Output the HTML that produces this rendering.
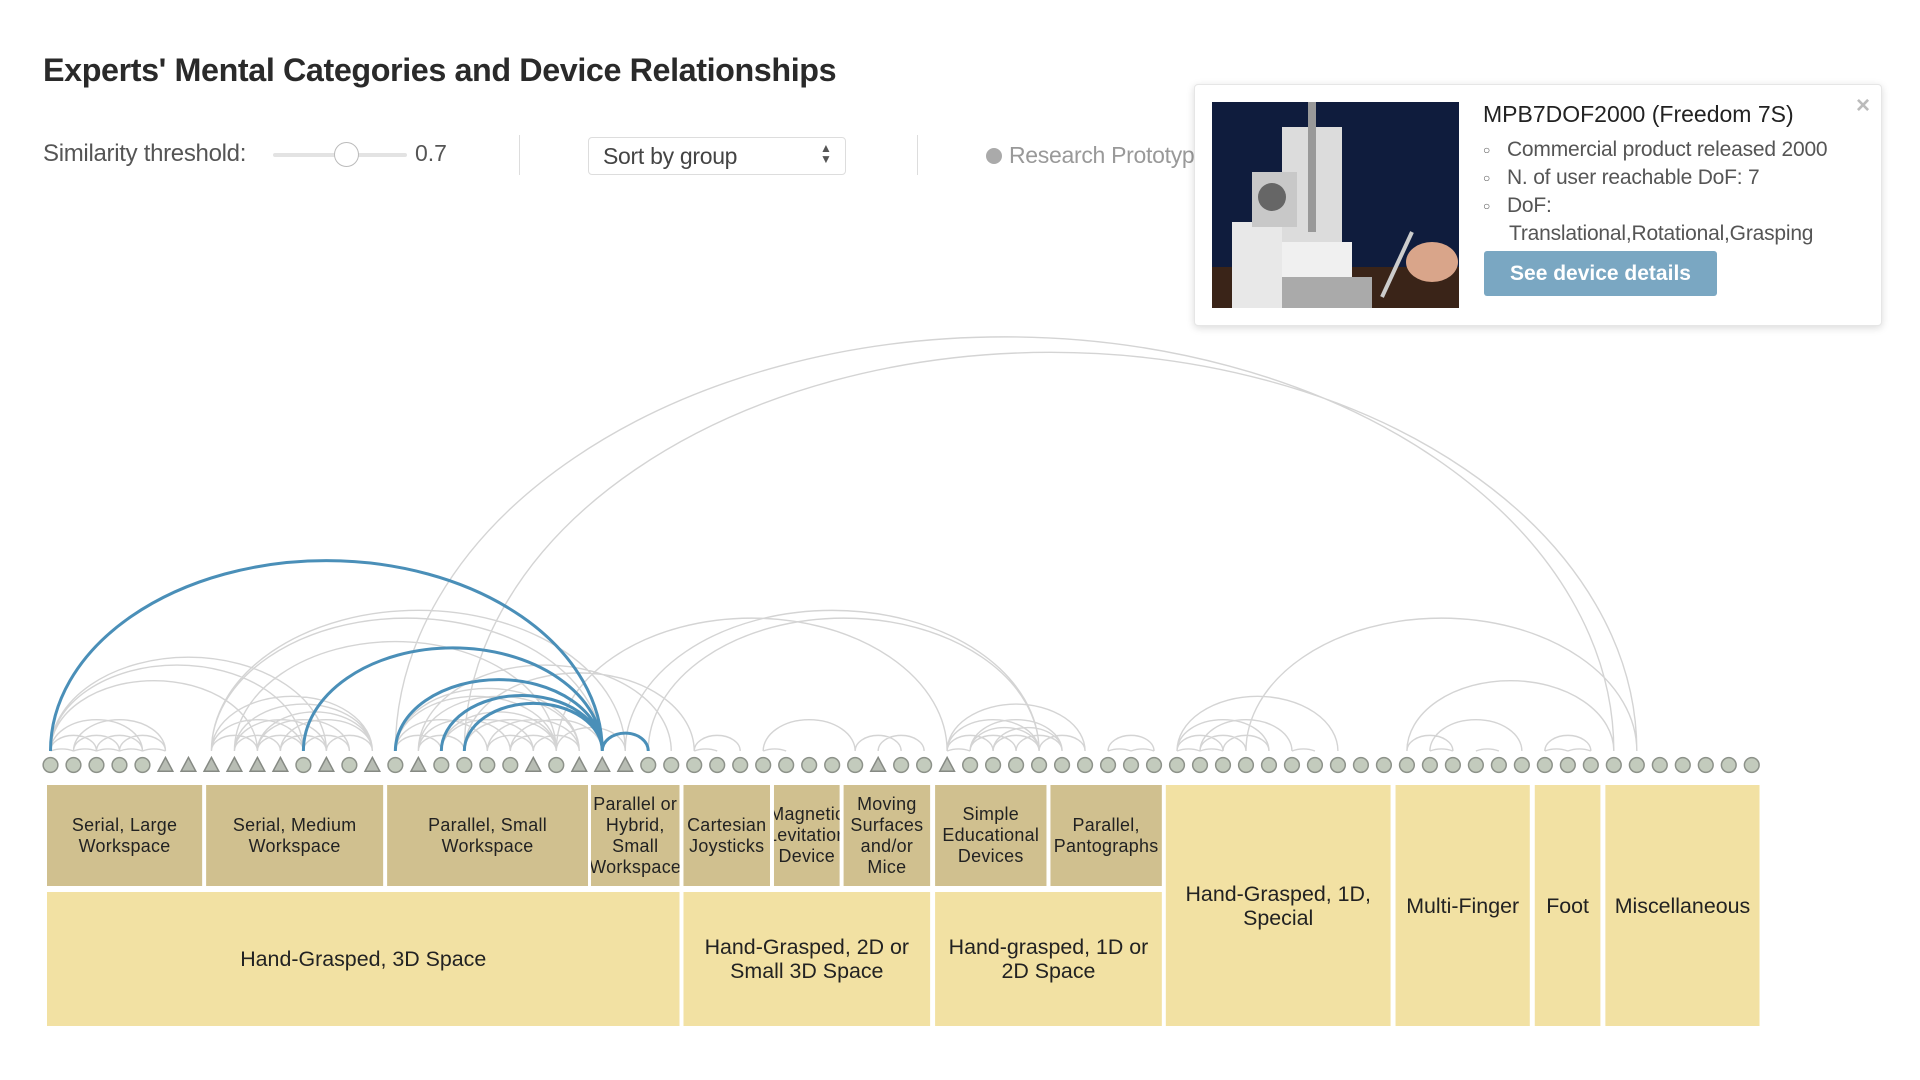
<!DOCTYPE html>
<html><head><meta charset="utf-8"><style>
*{margin:0;padding:0;box-sizing:border-box}
body{width:1920px;height:1080px;background:#fff;position:relative;overflow:hidden;font-family:"Liberation Sans",Arial,sans-serif;color:#333}
.a{position:absolute}
.box{position:absolute;display:flex;align-items:center;justify-content:center;text-align:center;overflow:hidden;white-space:nowrap;color:#222}
.d{background:#d0c08f;font-size:18px;line-height:21px;top:785px;height:101px;letter-spacing:0.3px}
.l{background:#f2e1a3;font-size:21.5px;line-height:24px}
#bx{position:absolute;left:0;top:0;width:1920px;height:1080px;transform:scaleX(0.9945);transform-origin:47px 0}
</style></head><body>
<div class="a" style="left:43px;top:52px;font-size:32.3px;font-weight:bold;color:#2a2a2a;letter-spacing:-0.4px">Experts' Mental Categories and Device Relationships</div>
<div class="a" style="left:43px;top:140px;font-size:24px;color:#555;letter-spacing:-0.3px">Similarity threshold:</div>
<div class="a" style="left:273px;top:153px;width:134px;height:4px;background:#e3e3e3;border-radius:2px"></div>
<div class="a" style="left:334px;top:142px;width:25px;height:25px;border-radius:50%;background:#fff;border:1.5px solid #bbb"></div>
<div class="a" style="left:415px;top:140px;font-size:23px;color:#555">0.7</div>
<div class="a" style="left:519px;top:135px;width:1px;height:40px;background:#ddd"></div>
<div class="a" style="left:588px;top:137px;width:258px;height:38px;border:1px solid #ddd;border-radius:4px;background:#fff"></div>
<div class="a" style="left:603px;top:143px;font-size:23px;color:#444;letter-spacing:-0.3px">Sort by group</div>
<div class="a" style="left:820px;top:143px;font-size:12px;color:#555;line-height:11px">▲<br>▼</div>
<div class="a" style="left:917px;top:135px;width:1px;height:40px;background:#ddd"></div>
<div class="a" style="left:986px;top:148px;width:16px;height:16px;border-radius:50%;background:#aaa"></div>
<div class="a" style="left:1009px;top:142px;font-size:23px;color:#999;white-space:nowrap;letter-spacing:-0.3px">Research Prototyp</div>

<div class="a" style="left:1194px;top:84px;width:688px;height:242px;background:#fff;border:1px solid #e6e6e6;border-radius:4px;box-shadow:0 2px 8px rgba(0,0,0,0.15)"></div>
<svg class="a" style="left:1212px;top:102px" width="247" height="206" viewBox="0 0 247 206">
<rect width="247" height="206" fill="#0f1c3d"/>
<rect x="0" y="165" width="247" height="41" fill="#3a2418"/>
<rect x="70" y="25" width="60" height="120" fill="#dcdcdc"/>
<rect x="96" y="0" width="8" height="130" fill="#999"/>
<rect x="20" y="120" width="50" height="86" fill="#e8e8e8"/>
<rect x="40" y="70" width="45" height="55" fill="#c8c8c8"/>
<circle cx="60" cy="95" r="14" fill="#666"/>
<rect x="70" y="140" width="70" height="40" fill="#f0f0f0"/>
<rect x="70" y="175" width="90" height="31" fill="#aaa"/>
<ellipse cx="220" cy="160" rx="26" ry="20" fill="#d9a58a"/>
<line x1="170" y1="195" x2="200" y2="130" stroke="#ccc" stroke-width="4"/>
</svg>
<div class="a" style="left:1483px;top:101px;font-size:23px;color:#222">MPB7DOF2000 (Freedom 7S)</div>
<div class="a" style="left:1856px;top:92px;font-size:24px;color:#bbb;font-weight:bold">×</div>
<div class="a" style="left:1483px;top:137px;font-size:21px;color:#555;line-height:25px;letter-spacing:-0.2px">
<div><span style="font-size:12px;position:relative;top:-2px">○</span>&nbsp;&nbsp;&nbsp;Commercial product released 2000</div>
<div><span style="font-size:12px;position:relative;top:-2px">○</span>&nbsp;&nbsp;&nbsp;N. of user reachable DoF: 7</div>
<div><span style="font-size:12px;position:relative;top:-2px">○</span>&nbsp;&nbsp;&nbsp;DoF:</div>
<div style="padding-left:26px">Translational,Rotational,Grasping</div>
</div>
<div class="a" style="left:1484px;top:251px;width:233px;height:45px;background:#7aa7c2;border-radius:3px;color:#fff;font-size:21px;font-weight:bold;display:flex;align-items:center;justify-content:center">See device details</div>

<svg class="a" style="left:0;top:0" width="1920" height="1080">
<g transform="translate(50.5,751) scale(22.99)" fill="none" stroke="#d4d4d4" stroke-width="1.4">
<path vector-effect="non-scaling-stroke" d="
M15 0A1 .68 0 0 1 68 0 M18 0A1 .68 0 0 1 69 0
M0 0A1 .68 0 0 1 1 0M1 0A1 .68 0 0 1 2 0M2 0A1 .68 0 0 1 3 0M3 0A1 .68 0 0 1 4 0M4 0A1 .68 0 0 1 5 0
M0 0A1 .68 0 0 1 2 0M1 0A1 .68 0 0 1 3 0M2 0A1 .68 0 0 1 4 0M3 0A1 .68 0 0 1 5 0M0 0A1 .68 0 0 1 4 0M1 0A1 .68 0 0 1 5 0
M0 0A1 .68 0 0 1 12 0M0 0A1 .68 0 0 1 11 0M0 0A1 .68 0 0 1 9 0
M7 0A1 .68 0 0 1 25 0M7 0A1 .68 0 0 1 24 0M8 0A1 .68 0 0 1 22 0
M7 0A1 .68 0 0 1 14 0M8 0A1 .68 0 0 1 14 0M9 0A1 .68 0 0 1 14 0M7 0A1 .68 0 0 1 11 0M8 0A1 .68 0 0 1 12 0M9 0A1 .68 0 0 1 13 0M10 0A1 .68 0 0 1 14 0
M7 0A1 .68 0 0 1 9 0M8 0A1 .68 0 0 1 10 0M9 0A1 .68 0 0 1 11 0M10 0A1 .68 0 0 1 12 0M11 0A1 .68 0 0 1 13 0M12 0A1 .68 0 0 1 14 0
M15 0A1 .68 0 0 1 22 0M15 0A1 .68 0 0 1 23 0M16 0A1 .68 0 0 1 23 0M17 0A1 .68 0 0 1 22 0M16 0A1 .68 0 0 1 20 0M17 0A1 .68 0 0 1 21 0M18 0A1 .68 0 0 1 22 0M19 0A1 .68 0 0 1 23 0M15 0A1 .68 0 0 1 19 0M20 0A1 .68 0 0 1 24 0
M15 0A1 .68 0 0 1 17 0M16 0A1 .68 0 0 1 18 0M19 0A1 .68 0 0 1 21 0M20 0A1 .68 0 0 1 22 0M21 0A1 .68 0 0 1 23 0M22 0A1 .68 0 0 1 25 0
M16 0A1 .68 0 0 1 27 0M18 0A1 .68 0 0 1 28 0
M22 0A1 .68 0 0 1 39 0M25 0A1 .68 0 0 1 43 0M26 0A1 .68 0 0 1 43 0
M28 0A1 .68 0 0 1 30 0M28 0A1 .68 0 0 1 29 0M31 0A1 .68 0 0 1 35 0M31 0A1 .68 0 0 1 32 0M35 0A1 .68 0 0 1 37 0M36 0A1 .68 0 0 1 38 0
M39 0A1 .68 0 0 1 45 0M40 0A1 .68 0 0 1 44 0M39 0A1 .68 0 0 1 43 0M40 0A1 .68 0 0 1 43 0M41 0A1 .68 0 0 1 44 0M39 0A1 .68 0 0 1 41 0M40 0A1 .68 0 0 1 42 0M41 0A1 .68 0 0 1 43 0M42 0A1 .68 0 0 1 44 0M43 0A1 .68 0 0 1 45 0M39 0A1 .68 0 0 1 40 0
M46 0A1 .68 0 0 1 48 0M46 0A1 .68 0 0 1 47 0M47 0A1 .68 0 0 1 48 0
M49 0A1 .68 0 0 1 56 0M49 0A1 .68 0 0 1 53 0M50 0A1 .68 0 0 1 54 0M49 0A1 .68 0 0 1 51 0M50 0A1 .68 0 0 1 52 0M51 0A1 .68 0 0 1 53 0M49 0A1 .68 0 0 1 50 0M50 0A1 .68 0 0 1 51 0M52 0A1 .68 0 0 1 69 0M54 0A1 .68 0 0 1 55 0
M59 0A1 .68 0 0 1 68 0M60 0A1 .68 0 0 1 64 0M59 0A1 .68 0 0 1 61 0M60 0A1 .68 0 0 1 61 0M62 0A1 .68 0 0 1 63 0M65 0A1 .68 0 0 1 67 0M65 0A1 .68 0 0 1 66 0M66 0A1 .68 0 0 1 67 0"/>
<path vector-effect="non-scaling-stroke" stroke="#4a8fb8" stroke-width="3" d="M0 0A1 .69 0 0 1 24 0M11 0A1 .69 0 0 1 24 0M15 0A1 .69 0 0 1 24 0M17 0A1 .69 0 0 1 24 0M18 0A1 .69 0 0 1 24 0M24 0A1 .78 0 0 1 26 0"/>
</g>
<g transform="translate(50.5,765) scale(22.99)" fill="#c3cbbd" stroke="#8d928a" stroke-width="1.5">
<circle vector-effect="non-scaling-stroke" cx="0" cy="0" r=".32"/><circle vector-effect="non-scaling-stroke" cx="1" cy="0" r=".32"/><circle vector-effect="non-scaling-stroke" cx="2" cy="0" r=".32"/><circle vector-effect="non-scaling-stroke" cx="3" cy="0" r=".32"/><circle vector-effect="non-scaling-stroke" cx="4" cy="0" r=".32"/>
<g fill="#b8bdb4" stroke="#868a84">
<path vector-effect="non-scaling-stroke" d="M5 -.33L5.32 .27L4.68 .27ZM6 -.33L6.32 .27L5.68 .27ZM7 -.33L7.32 .27L6.68 .27ZM8 -.33L8.32 .27L7.68 .27ZM9 -.33L9.32 .27L8.68 .27ZM10 -.33L10.32 .27L9.68 .27ZM12 -.33L12.32 .27L11.68 .27ZM14 -.33L14.32 .27L13.68 .27ZM16 -.33L16.32 .27L15.68 .27ZM21 -.33L21.32 .27L20.68 .27ZM23 -.33L23.32 .27L22.68 .27ZM24 -.33L24.32 .27L23.68 .27ZM25 -.33L25.32 .27L24.68 .27ZM36 -.33L36.32 .27L35.68 .27ZM39 -.33L39.32 .27L38.68 .27Z"/>
</g>
<circle vector-effect="non-scaling-stroke" cx="11" cy="0" r=".32"/><circle vector-effect="non-scaling-stroke" cx="13" cy="0" r=".32"/><circle vector-effect="non-scaling-stroke" cx="15" cy="0" r=".32"/><circle vector-effect="non-scaling-stroke" cx="17" cy="0" r=".32"/><circle vector-effect="non-scaling-stroke" cx="18" cy="0" r=".32"/><circle vector-effect="non-scaling-stroke" cx="19" cy="0" r=".32"/><circle vector-effect="non-scaling-stroke" cx="20" cy="0" r=".32"/><circle vector-effect="non-scaling-stroke" cx="22" cy="0" r=".32"/>
<circle vector-effect="non-scaling-stroke" cx="26" cy="0" r=".32"/><circle vector-effect="non-scaling-stroke" cx="27" cy="0" r=".32"/><circle vector-effect="non-scaling-stroke" cx="28" cy="0" r=".32"/><circle vector-effect="non-scaling-stroke" cx="29" cy="0" r=".32"/><circle vector-effect="non-scaling-stroke" cx="30" cy="0" r=".32"/><circle vector-effect="non-scaling-stroke" cx="31" cy="0" r=".32"/><circle vector-effect="non-scaling-stroke" cx="32" cy="0" r=".32"/><circle vector-effect="non-scaling-stroke" cx="33" cy="0" r=".32"/><circle vector-effect="non-scaling-stroke" cx="34" cy="0" r=".32"/><circle vector-effect="non-scaling-stroke" cx="35" cy="0" r=".32"/><circle vector-effect="non-scaling-stroke" cx="37" cy="0" r=".32"/><circle vector-effect="non-scaling-stroke" cx="38" cy="0" r=".32"/>
<circle vector-effect="non-scaling-stroke" cx="40" cy="0" r=".32"/><circle vector-effect="non-scaling-stroke" cx="41" cy="0" r=".32"/><circle vector-effect="non-scaling-stroke" cx="42" cy="0" r=".32"/><circle vector-effect="non-scaling-stroke" cx="43" cy="0" r=".32"/><circle vector-effect="non-scaling-stroke" cx="44" cy="0" r=".32"/><circle vector-effect="non-scaling-stroke" cx="45" cy="0" r=".32"/><circle vector-effect="non-scaling-stroke" cx="46" cy="0" r=".32"/><circle vector-effect="non-scaling-stroke" cx="47" cy="0" r=".32"/><circle vector-effect="non-scaling-stroke" cx="48" cy="0" r=".32"/><circle vector-effect="non-scaling-stroke" cx="49" cy="0" r=".32"/><circle vector-effect="non-scaling-stroke" cx="50" cy="0" r=".32"/><circle vector-effect="non-scaling-stroke" cx="51" cy="0" r=".32"/><circle vector-effect="non-scaling-stroke" cx="52" cy="0" r=".32"/><circle vector-effect="non-scaling-stroke" cx="53" cy="0" r=".32"/><circle vector-effect="non-scaling-stroke" cx="54" cy="0" r=".32"/><circle vector-effect="non-scaling-stroke" cx="55" cy="0" r=".32"/><circle vector-effect="non-scaling-stroke" cx="56" cy="0" r=".32"/><circle vector-effect="non-scaling-stroke" cx="57" cy="0" r=".32"/>
<circle vector-effect="non-scaling-stroke" cx="58" cy="0" r=".32"/><circle vector-effect="non-scaling-stroke" cx="59" cy="0" r=".32"/><circle vector-effect="non-scaling-stroke" cx="60" cy="0" r=".32"/><circle vector-effect="non-scaling-stroke" cx="61" cy="0" r=".32"/><circle vector-effect="non-scaling-stroke" cx="62" cy="0" r=".32"/><circle vector-effect="non-scaling-stroke" cx="63" cy="0" r=".32"/><circle vector-effect="non-scaling-stroke" cx="64" cy="0" r=".32"/><circle vector-effect="non-scaling-stroke" cx="65" cy="0" r=".32"/><circle vector-effect="non-scaling-stroke" cx="66" cy="0" r=".32"/><circle vector-effect="non-scaling-stroke" cx="67" cy="0" r=".32"/><circle vector-effect="non-scaling-stroke" cx="68" cy="0" r=".32"/><circle vector-effect="non-scaling-stroke" cx="69" cy="0" r=".32"/><circle vector-effect="non-scaling-stroke" cx="70" cy="0" r=".32"/><circle vector-effect="non-scaling-stroke" cx="71" cy="0" r=".32"/><circle vector-effect="non-scaling-stroke" cx="72" cy="0" r=".32"/><circle vector-effect="non-scaling-stroke" cx="73" cy="0" r=".32"/><circle vector-effect="non-scaling-stroke" cx="74" cy="0" r=".32"/>
</g>
</svg>

<div id="bx">
<div class="box d" style="left:47px;width:156px">Serial, Large<br>Workspace</div>
<div class="box d" style="left:207px;width:178px">Serial, Medium<br>Workspace</div>
<div class="box d" style="left:389px;width:202px">Parallel, Small<br>Workspace</div>
<div class="box d" style="left:594px;width:89px">Parallel or<br>Hybrid,<br>Small<br>Workspace</div>
<div class="box d" style="left:687px;width:87px">Cartesian<br>Joysticks</div>
<div class="box d" style="left:778px;width:66px">Magnetic<br>Levitation<br>Device</div>
<div class="box d" style="left:848px;width:87px">Moving<br>Surfaces<br>and/or<br>Mice</div>
<div class="box d" style="left:940px;width:112px">Simple<br>Educational<br>Devices</div>
<div class="box d" style="left:1056px;width:112px">Parallel,<br>Pantographs</div>
<div class="box l" style="left:47px;top:892px;width:636px;height:134px">Hand-Grasped, 3D Space</div>
<div class="box l" style="left:687px;top:892px;width:248px;height:134px">Hand-Grasped, 2D or<br>Small 3D Space</div>
<div class="box l" style="left:940px;top:892px;width:228px;height:134px">Hand-grasped, 1D or<br>2D Space</div>
<div class="box l" style="left:1172px;top:785px;width:226px;height:241px">Hand-Grasped, 1D,<br>Special</div>
<div class="box l" style="left:1403px;top:785px;width:135px;height:241px">Multi-Finger</div>
<div class="box l" style="left:1543px;top:785px;width:66px;height:241px">Foot</div>
<div class="box l" style="left:1614px;top:785px;width:155px;height:241px">Miscellaneous</div>
</div>
</body></html>
